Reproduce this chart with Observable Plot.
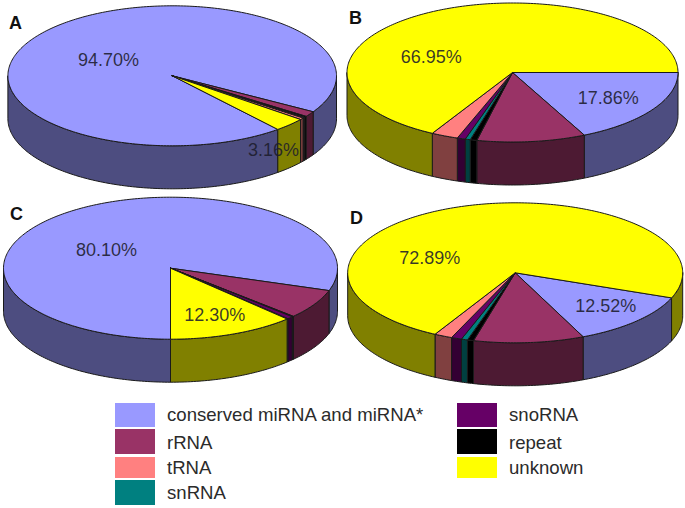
<!DOCTYPE html>
<html>
<head>
<meta charset="utf-8">
<script src="https://cdn.jsdelivr.net/npm/d3@7"></script>
<script src="https://cdn.jsdelivr.net/npm/@observablehq/plot@0.6"></script>
<style>
  html, body { margin: 0; padding: 0; background: #fff; }
  body { width: 685px; height: 508px; overflow: hidden; font-family: "Liberation Sans", Arial, sans-serif; }
  svg { display: block; }
  #legend { position: relative; height: 110px; color: #2b2b2b; font-size: 18.6px; }
  .key { position: absolute; width: 40px; }
  .lab { position: absolute; line-height: 24px; white-space: nowrap; }
</style>
</head>
<body>
<div id="chart"></div>
<div id="legend"></div>
<script>
// Slice order around each pie (clockwise)
const sliceOrder = ["conserved miRNA and miRNA*", "rRNA", "repeat", "snRNA", "snoRNA", "tRNA", "unknown"];
const legendOrder = ["conserved miRNA and miRNA*", "rRNA", "tRNA", "snRNA", "snoRNA", "repeat", "unknown"];
const topColors = ["#9999FF", "#993366", "#000000", "#008080", "#660066", "#FF8080", "#FFFF00"];
const sideColors = ["#4D4D80", "#4D1A33", "#000000", "#004040", "#330033", "#804040", "#808000"];

// Percentages, in sliceOrder
const valuesA = [94.70, 1.25, 0.25, 0.10, 0.14, 0.40, 3.16];
const valuesB = [17.86, 10.60, 0.65, 0.50, 0.80, 2.64, 66.95];
const valuesC = [80.10, 6.75, 0.10, 0.05, 0.60, 0.10, 12.30];
const valuesD = [12.52, 10.65, 0.60, 0.60, 1.00, 1.74, 72.89];

// Which slices carry a printed label
const labelledA = ["conserved miRNA and miRNA*", "unknown"];
const labelledB = ["unknown", "conserved miRNA and miRNA*"];
const labelledC = ["conserved miRNA and miRNA*", "unknown"];
const labelledD = ["unknown", "conserved miRNA and miRNA*"];

// Layout of the four pies (in pixels of the picture, via identity x/y scales)
const panels = [
  {name: "A", values: valuesA, labelled: labelledA, start: 50, cx: 171.7, cy: 75.3, rx: 164.3, ry: 70, letter: [15, 23], labelAt: [[108, 60], [273, 150]]},
  {name: "B", values: valuesB, labelled: labelledB, start: 0, cx: 512, cy: 72, rx: 165.5, ry: 69.5, letter: [355, 18], labelAt: [[430.7, 57], [607.7, 98]]},
  {name: "C", values: valuesC, labelled: labelledC, start: 90, cx: 170, cy: 267.7, rx: 167, ry: 71, letter: [16, 214], labelAt: [[106, 250], [214.3, 314.3]]},
  {name: "D", values: valuesD, labelled: labelledD, start: 21, cx: 514.7, cy: 272.3, rx: 167.5, ry: 70, letter: [356, 218], labelAt: [[429.3, 257.3], [605.3, 306]]}
];
const depth = 43;
const svgHeight = 398;

const rad = Math.PI / 180;
const arc = (p, a, b, dy = 0) => {
  const n = Math.max(2, Math.ceil(Math.abs(b - a)));
  return d3.range(n + 1).map(i => {
    const t = (a + (b - a) * i / n) * rad;
    return {x: p.cx + p.rx * Math.cos(t), y: p.cy + dy + p.ry * Math.sin(t)};
  });
};

const topPts = [], sidePts = [];
for (const p of panels) {
  const total = d3.sum(p.values);
  let a = p.start;
  p.values.forEach((v, i) => {
    const b = a + v / total * 360;
    const cat = sliceOrder[i];
    // top face
    const id = `${p.name}-${i}`;
    const c = {x: p.cx, y: p.cy};
    [c, ...arc(p, a, b), c].forEach(q => topPts.push({...q, id, key: cat}));
    // visible rim: the part of the slice in the front half (0 to 180 degrees)
    for (const off of [0, 360]) {
      const s = Math.max(a, off), e = Math.min(b, off + 180);
      if (e > s) {
        const upper = arc(p, s, e), lower = arc(p, s, e, depth).reverse();
        [...upper, ...lower, upper[0]].forEach(q => sidePts.push({...q, id: `${id}-${off}`, key: cat + " side"}));
      }
    }
    a = b;
  });
}

const labels = panels.flatMap(p => p.labelled.map((cat, j) => ({
  x: p.labelAt[j][0], y: p.labelAt[j][1],
  text: p.values[sliceOrder.indexOf(cat)].toFixed(2) + "%"
})));
const letters = panels.map(p => ({x: p.letter[0], y: p.letter[1], text: p.name}));

const lineStyle = {x: "x", y: "y", z: "id", fill: "key", stroke: "#1a1a1a", strokeWidth: 1, strokeLinejoin: "round"};

const chart = Plot.plot({
  width: 685,
  height: svgHeight,
  margin: 0,
  style: {background: "#fff"},
  x: {domain: [0, 685], range: [0, 685], axis: null},
  y: {domain: [0, svgHeight], range: [0, svgHeight], axis: null},
  color: {
    domain: [...sliceOrder, ...sliceOrder.map(c => c + " side")],
    range: [...topColors, ...sideColors]
  },
  marks: [
    Plot.line(sidePts, lineStyle),
    Plot.line(topPts, lineStyle),
    Plot.text(labels, {x: "x", y: "y", text: "text", fontSize: 18, fill: "#1c1c2c", fillOpacity: 0.88, fontFamily: "Liberation Sans, Arial, sans-serif"}),
    Plot.text(letters, {x: "x", y: "y", text: "text", fontSize: 18, fontWeight: "bold", fill: "#111", fontFamily: "Liberation Sans, Arial, sans-serif"})
  ]
});
document.getElementById("chart").append(chart);

// Legend below the plot
const legendRows = [{top: 5, h: 24, text: 5}, {top: 31, h: 25, text: 32.7}, {top: 59, h: 21, text: 57.7}, {top: 82, h: 25, text: 83.3}];
const legendCols = [{key: 115, lab: 167}, {key: 457, lab: 509}];
const legend = document.getElementById("legend");
legendOrder.forEach((cat, i) => {
  const col = legendCols[i < 4 ? 0 : 1], row = legendRows[i < 4 ? i : i - 4];
  const k = document.createElement("div");
  k.className = "key";
  k.style.cssText = `left:${col.key}px;top:${row.top}px;height:${row.h}px;background:${topColors[sliceOrder.indexOf(cat)]}`;
  const t = document.createElement("div");
  t.className = "lab";
  t.textContent = cat;
  t.style.cssText = `left:${col.lab}px;top:${row.text}px`;
  legend.append(k, t);
});
</script>
</body>
</html>
